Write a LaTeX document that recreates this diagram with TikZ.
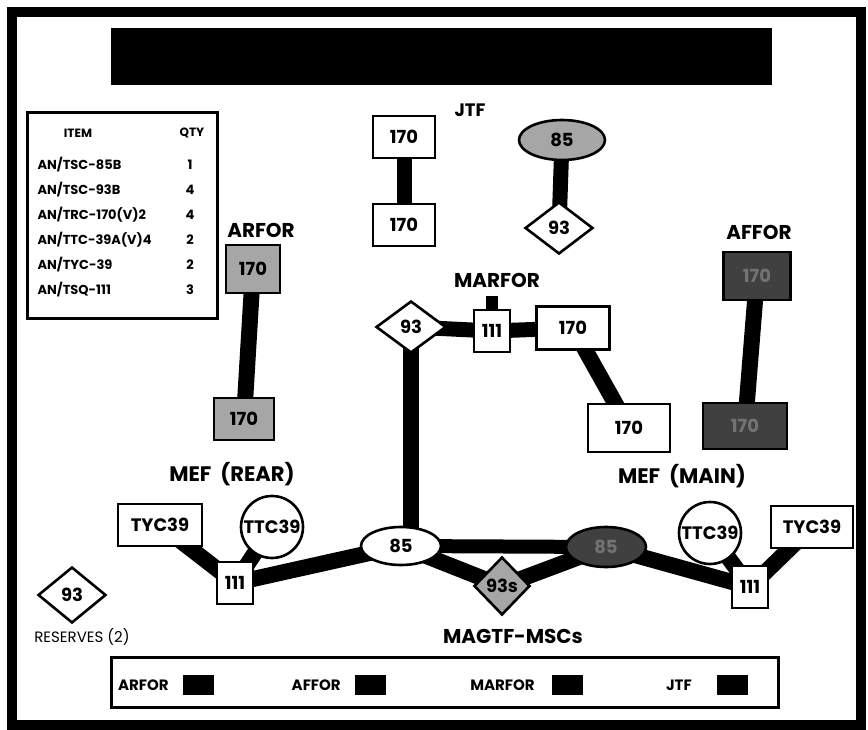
\documentclass[tikz,border=0pt]{standalone}
\usepackage{fontspec}
\setmainfont{Poppins}
\usepackage{tikz}
\usetikzlibrary{positioning, shapes.geometric, backgrounds}
\tikzset{
  every node/.style={font=\bfseries\fontsize{18}{20}\selectfont},
  unitbox/.style={
    rectangle, draw, line width=2.6pt, fill=white, inner sep=0pt
  },
  hub/.style={
    ellipse, draw, line width=2.6pt, fill=white, inner sep=0pt
  },
  msc/.style={
    diamond, draw, line width=2.6pt, fill=white, inner sep=0pt
  },
  ttc/.style={
    circle, draw, line width=2.6pt, fill=white, inner sep=0pt,
    minimum size=62pt
  },
  lightshade/.style={fill=black!35},
  darkshade/.style={fill=black!75, text=black!55},
  link/.style={line width=16pt},
  grouplabel/.style={font=\bfseries\fontsize{20}{22}\selectfont},
  meflabel/.style={font=\bfseries\fontsize{21}{23}\selectfont},
  itemtext/.style={font=\bfseries\fontsize{13}{15}\selectfont, anchor=west},
  keytext/.style={font=\bfseries\fontsize{15}{17}\selectfont, anchor=east},
  keysquare/.style={
    rectangle, fill=black, minimum width=31pt, minimum height=20pt,
    inner sep=0pt
  }
}

\begin{document}
\begin{tikzpicture}[x=1pt, y=-1pt]
\useasboundingbox (0,0) rectangle (868,730);

% ── Frame and title bar ──────────────────────────────────────────────────────
\draw[line width=10pt] (12,12) rectangle (861,725);
\node[fill=black, minimum width=661pt, minimum height=57pt, inner sep=0pt]
  (title) at (441.5,56.5) {};

% ── Equipment table ──────────────────────────────────────────────────────────
\node[draw, line width=3pt, minimum width=190pt, minimum height=205pt,
      inner sep=0pt] (itemtab) at (122,215.5) {};
\node[font=\bfseries\fontsize{12}{14}\selectfont] (ihead) at (78,133) {ITEM};
\node[font=\bfseries\fontsize{12}{14}\selectfont] (qhead) at (192,133) {QTY};
\node[itemtext] (i1) at (34,165) {AN/TSC-85B};
\node[itemtext] (i2) at (34,190) {AN/TSC-93B};
\node[itemtext] (i3) at (34,215) {AN/TRC-170(V)2};
\node[itemtext] (i4) at (34,240) {AN/TTC-39A(V)4};
\node[itemtext] (i5) at (34,265) {AN/TYC-39};
\node[itemtext] (i6) at (34,290) {AN/TSQ-111};
\foreach \q/\y [count=\i] in {1/165, 4/190, 4/215, 2/240, 2/265, 3/290} {
  \node[itemtext, anchor=center] (q\i) at (190,\y) {\q};
}

% ── JTF ──────────────────────────────────────────────────────────────────────
\node[grouplabel, font=\bfseries\fontsize{18}{20}\selectfont] (jtflbl) at (470,110) {JTF};
\node[unitbox, minimum width=62pt, minimum height=42pt] (jtfA) at (404,137) {170};
\node[unitbox, minimum width=62pt, minimum height=42pt] (jtfB) at (404,225) {170};
\node[hub, lightshade, minimum width=86pt, minimum height=40pt] (jtfHub) at (562,140) {85};
\node[msc, minimum width=68pt, minimum height=52pt] (jtfSw) at (559,228) {93};

% ── ARFOR / AFFOR ────────────────────────────────────────────────────────────
\node[grouplabel] (arlbl) at (261,230) {ARFOR};
\node[unitbox, lightshade, minimum width=54pt, minimum height=48pt] (arA) at (253,269) {170};
\node[unitbox, lightshade, minimum width=60pt, minimum height=42pt] (arB) at (244,419) {170};
\node[grouplabel] (aflbl) at (759,232) {AFFOR};
\node[unitbox, darkshade, minimum width=67pt, minimum height=48pt] (afA) at (757,276) {170};
\node[unitbox, darkshade, minimum width=84pt, minimum height=46pt] (afB) at (745,426) {170};

% ── MARFOR ───────────────────────────────────────────────────────────────────
\node[grouplabel] (mlbl) at (497,280) {MARFOR};
\node[msc, minimum width=70pt, minimum height=52pt] (mSw) at (411,327) {93};
\node[unitbox, minimum width=36pt, minimum height=42pt] (m111) at (492,331) {111};
\node[unitbox, minimum width=73pt, minimum height=43pt] (mA) at (573,328) {170};
\node[unitbox, minimum width=82pt, minimum height=48pt] (mB) at (629,428) {170};
\coordinate (mStub) at (492,296);

% ── MEF rear / main and the MAGTF-MSCs ───────────────────────────────────────
\node[meflabel] (rearlbl) at (232,474) {MEF\ \ (REAR)};
\node[meflabel] (mainlbl) at (682,476) {MEF\ \ (MAIN)};
\node[unitbox, minimum width=84pt, minimum height=42pt] (rTyc) at (160,525) {TYC39};
\node[ttc] (rTtc) at (272,527) {TTC39};
\node[unitbox, minimum width=36pt, minimum height=42pt] (r111) at (235,583) {111};
\node[hub, minimum width=80pt, minimum height=38pt] (mefHub) at (401,546) {85};
\node[msc, lightshade, minimum width=56pt, minimum height=58pt] (sw93s) at (502,586) {93s};
\node[hub, darkshade, minimum width=80pt, minimum height=40pt] (mainHub) at (606,547) {85};
\node[ttc] (nTtc) at (710,533) {TTC39};
\node[unitbox, minimum width=82pt, minimum height=42pt] (nTyc) at (812,527) {TYC39};
\node[unitbox, minimum width=36pt, minimum height=42pt] (n111) at (750,587) {111};
\node[meflabel, font=\bfseries\fontsize{20}{22}\selectfont] (msclbl) at (513,636) {MAGTF-MSCs};

% ── Reserves ─────────────────────────────────────────────────────────────────
\node[msc, minimum width=68pt, minimum height=56pt] (res93) at (72,595) {93};
\node[font=\mdseries\fontsize{15}{17}\selectfont] (reslbl) at (82,637) {RESERVES (2)};

% ── Links, kept behind the nodes ─────────────────────────────────────────────
\begin{scope}[on background layer]
  \draw[link, line width=15pt] (jtfA.center) -- (jtfB.center);
  \draw[link, line width=15pt] (jtfHub.center) -- (jtfSw.center);
  \draw[link] (arA.center) -- (arB.center);
  \draw[link] (afA.center) -- (afB.center);
  \draw[link, line width=15pt] (mSw.center) -- (m111.center) -- (mA.center);
  \draw[link] (mA.center) -- (mB.center);
  \draw[line width=12pt] (m111.center) -- (mStub);
  \draw[link] (mSw.center) -- (mSw.center |- mefHub.center);
  \foreach \a in {rTyc, rTtc, mefHub} { \draw[link] (\a.center) -- (r111.center); }
  \foreach \a in {nTyc, nTtc, mainHub} { \draw[link] (\a.center) -- (n111.center); }
  \draw[line width=14pt] (mefHub.center) -- (mainHub.center);
  \draw[link] (mefHub.center) -- (sw93s.center) -- (mainHub.center);
\end{scope}

% ── Key along the bottom ─────────────────────────────────────────────────────
\node[draw, line width=3pt, minimum width=667pt, minimum height=50pt,
      inner sep=0pt] (keybox) at (444.5,682) {};
\node[keysquare] (kAr) at (198,685) {};
\node[keysquare] (kAf) at (370,685) {};
\node[keysquare] (kMar) at (567,685) {};
\node[keysquare] (kJtf) at (732,685) {};
\node[keytext, left=10pt of kAr.west, anchor=east] {ARFOR};
\node[keytext, left=10pt of kAf.west, anchor=east] {AFFOR};
\node[keytext, left=13pt of kMar.west, anchor=east] {MARFOR};
\node[keytext, left=21pt of kJtf.west, anchor=east] {JTF};

\end{tikzpicture}
\end{document}
